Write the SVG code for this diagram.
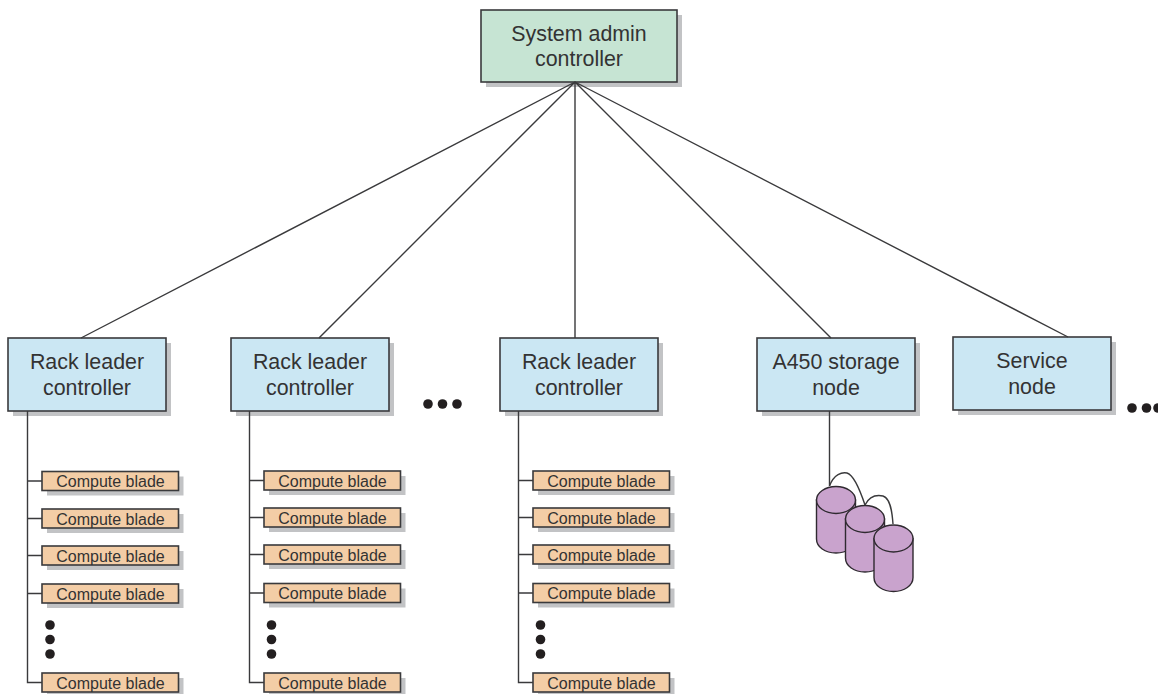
<svg xmlns="http://www.w3.org/2000/svg" width="1158" height="694" viewBox="0 0 1158 694">
<style>
text{font-family:"Liberation Sans",Arial,sans-serif;fill:#333;text-anchor:middle}
.big{font-size:21.400px}
.small{font-size:16px}
.sh{fill:#c2c3c5}
.box{stroke:#3a3a3c;stroke-width:1.6}
.g{fill:#c6e4d3}
.b{fill:#cbe7f3}
.o{fill:#f3cda6}
.p{fill:#c9a3cd;stroke:#2f2a30;stroke-width:1.4}
.l{stroke:#3a3a3c;stroke-width:1.4;fill:none}
.d{fill:#231f20}
</style>
<defs>
<g id="blade">
<rect class="sh" x="5" y="5" width="136.500" height="19"/>
<rect class="box o" x="0" y="0" width="136.500" height="19"/>
<text class="small" x="68.500" y="15.500">Compute blade</text>
</g>
<g id="rack">
<rect class="sh" x="5" y="5" width="158" height="73"/>
<rect class="box b" x="0" y="0" width="158" height="73"/>
</g>
<g id="cyl">
<path class="p" d="M0 14V53C0 61 8.700 67 19.500 67S39 61 39 53V14Z"/>
<ellipse class="p" cx="19.500" cy="14" rx="19.500" ry="13.500"/>
</g>
</defs>
<g id="admin">
<rect class="sh" x="486" y="15" width="196" height="72"/>
<rect class="box g" x="481" y="10" width="196" height="72"/>
<text class="big" x="579" y="41">System admin</text>
<text class="big" x="579" y="66">controller</text>
</g>
<g id="rack1"><use href="#rack" x="8" y="338"/><text class="big" x="87" y="369">Rack leader</text><text class="big" x="87" y="395">controller</text></g>
<g id="rack2"><use href="#rack" x="231" y="338"/><text class="big" x="310" y="369">Rack leader</text><text class="big" x="310" y="395">controller</text></g>
<g id="rack3"><use href="#rack" x="500" y="338"/><text class="big" x="579" y="369">Rack leader</text><text class="big" x="579" y="395">controller</text></g>
<g id="storage"><use href="#rack" x="757" y="338"/><text class="big" x="836" y="369">A450 storage</text><text class="big" x="836" y="395">node</text></g>
<g id="service"><use href="#rack" x="953" y="337"/><text class="big" x="1032" y="368">Service</text><text class="big" x="1032" y="394">node</text></g>
<g id="connectors">
<path class="l" d="M575 82L81 338M575 82L319 338M575 82V338M575 82L831 338M575 82L1068 337"/>
<path class="l" d="M27.500 411V682.500H42M27.500 481H42M27.500 518.500H42M27.500 555.500H42M27.500 593.500H42"/>
<path class="l" d="M249.500 411V682.500H264M249.500 480.500H264M249.500 517.500H264M249.500 554.500H264M249.500 593H264"/>
<path class="l" d="M518.500 411V682.500H533M518.500 480.500H533M518.500 517.500H533M518.500 554.500H533M518.500 593H533"/>
<path class="l" d="M829.500 411V486"/>
<path class="l" d="M829.500 486C834 474 842 472 847 473C854 475 860 490 865 505C870 495 878 495 883 496C890 498 892 510 893 524"/>
</g>
<g id="col1">
<use href="#blade" x="42" y="471.500"/><use href="#blade" x="42" y="509"/><use href="#blade" x="42" y="546"/><use href="#blade" x="42" y="584"/><use href="#blade" x="42" y="673"/>
</g>
<g id="col2">
<use href="#blade" x="264" y="471"/><use href="#blade" x="264" y="508"/><use href="#blade" x="264" y="545"/><use href="#blade" x="264" y="583.500"/><use href="#blade" x="264" y="673"/>
</g>
<g id="col3">
<use href="#blade" x="533" y="471"/><use href="#blade" x="533" y="508"/><use href="#blade" x="533" y="545"/><use href="#blade" x="533" y="583.500"/><use href="#blade" x="533" y="673"/>
</g>
<g id="disks">
<use href="#cyl" x="816.500" y="486"/><use href="#cyl" x="845.500" y="505"/><use href="#cyl" x="874" y="524.500"/>
</g>
<g id="dots">
<circle class="d" cx="50" cy="625" r="4.800"/><circle class="d" cx="50" cy="639.500" r="4.800"/><circle class="d" cx="50" cy="654" r="4.800"/>
<circle class="d" cx="271.500" cy="625" r="4.800"/><circle class="d" cx="271.500" cy="639.500" r="4.800"/><circle class="d" cx="271.500" cy="654" r="4.800"/>
<circle class="d" cx="540.500" cy="625" r="4.800"/><circle class="d" cx="540.500" cy="639.500" r="4.800"/><circle class="d" cx="540.500" cy="654" r="4.800"/>
<circle class="d" cx="428" cy="404" r="4.800"/><circle class="d" cx="442.500" cy="404" r="4.800"/><circle class="d" cx="457" cy="404" r="4.800"/>
<circle class="d" cx="1132" cy="408" r="4.800"/><circle class="d" cx="1146.500" cy="408" r="4.800"/><circle class="d" cx="1158" cy="408" r="4.800"/>
</g>
</svg>
